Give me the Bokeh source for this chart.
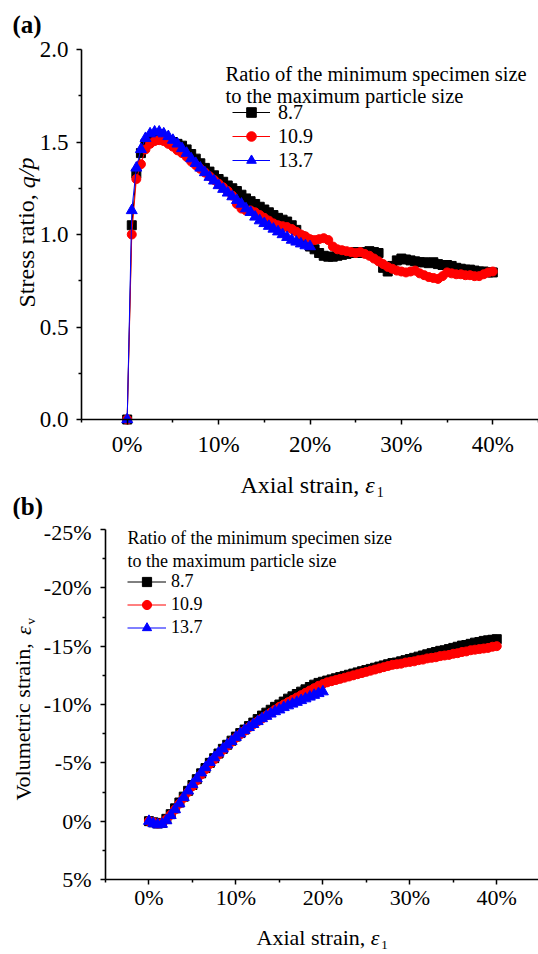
from bokeh.plotting import figure
from bokeh.models import (Range1d, FixedTicker, PrintfTickFormatter, Label,
                          Legend, LegendItem, LinearAxis)
from bokeh.layouts import column
from bokeh.embed import file_html
from bokeh.resources import INLINE

# ---------------- data ----------------
SERIES = ["8.7", "10.9", "13.7"]
COLORS = ["black", "#FF0000", "#0000FF"]
MARKERS = ["square", "circle", "triangle"]
SIZES = [9, 9, 11]

STRAIN_40 = [0, 0.5, 1, 1.5, 2, 2.5, 3, 3.5, 4, 4.5,
             5, 5.5, 6, 6.5, 7, 7.5, 8, 8.5, 9, 9.5,
             10, 10.5, 11, 11.5, 12, 12.5, 13, 13.5, 14, 14.5,
             15, 15.5, 16, 16.5, 17, 17.5, 18, 18.5, 19, 19.5,
             20, 20.5, 21, 21.5, 22, 22.5, 23, 23.5, 24, 24.5,
             25, 25.5, 26, 26.5, 27, 27.5, 28, 28.5, 29, 29.5,
             30, 30.5, 31, 31.5, 32, 32.5, 33, 33.5, 34, 34.5,
             35, 35.5, 36, 36.5, 37, 37.5, 38, 38.5, 39, 39.5,
             40]
STRAIN_20 = [0, 0.5, 1, 1.5, 2, 2.5, 3, 3.5, 4, 4.5,
             5, 5.5, 6, 6.5, 7, 7.5, 8, 8.5, 9, 9.5,
             10, 10.5, 11, 11.5, 12, 12.5, 13, 13.5, 14, 14.5,
             15, 15.5, 16, 16.5, 17, 17.5, 18, 18.5, 19, 19.5,
             20]

# (a) stress ratio q/p
QP_87 = [0, 1.05, 1.33, 1.44, 1.49, 1.51, 1.52, 1.52, 1.515, 1.51,
         1.50, 1.49, 1.48, 1.46, 1.435, 1.41, 1.385, 1.36, 1.34, 1.32,
         1.30, 1.285, 1.265, 1.25, 1.235, 1.215, 1.195, 1.18, 1.165, 1.15,
         1.135, 1.12, 1.105, 1.09, 1.08, 1.07, 1.05, 1.025, 0.99, 0.96,
         0.935, 0.92, 0.90, 0.885, 0.88, 0.88, 0.885, 0.89, 0.895, 0.90,
         0.905, 0.90, 0.905, 0.91, 0.905, 0.90, 0.82, 0.80, 0.83, 0.86,
         0.87, 0.865, 0.86, 0.855, 0.85, 0.85, 0.845, 0.85, 0.84, 0.835,
         0.835, 0.83, 0.82, 0.815, 0.81, 0.81, 0.805, 0.80, 0.80, 0.795,
         0.795]
QP_109 = [0, 1.0, 1.30, 1.38, 1.46, 1.49, 1.505, 1.51, 1.505, 1.49,
          1.475, 1.455, 1.44, 1.42, 1.395, 1.375, 1.355, 1.335, 1.315, 1.295,
          1.275, 1.255, 1.235, 1.21, 1.165, 1.14, 1.13, 1.13, 1.12, 1.105,
          1.09, 1.075, 1.06, 1.05, 1.045, 1.04, 1.03, 1.015, 1.00, 0.99,
          0.975, 0.97, 0.975, 0.98, 0.97, 0.935, 0.92, 0.915, 0.91, 0.905,
          0.90, 0.905, 0.895, 0.885, 0.87, 0.855, 0.84, 0.825, 0.815, 0.805,
          0.80, 0.795, 0.80, 0.805, 0.79, 0.78, 0.77, 0.765, 0.76, 0.775,
          0.795, 0.79, 0.785, 0.785, 0.78, 0.78, 0.775, 0.775, 0.785, 0.795,
          0.80]
QP_137 = [0, 1.13, 1.36, 1.46, 1.52, 1.545, 1.555, 1.555, 1.545, 1.53,
          1.51, 1.49, 1.465, 1.44, 1.41, 1.385, 1.36, 1.335, 1.31, 1.29,
          1.265, 1.245, 1.225, 1.205, 1.185, 1.165, 1.14, 1.12, 1.095, 1.075,
          1.06, 1.045, 1.03, 1.015, 1.0, 0.985, 0.97, 0.96, 0.95, 0.94,
          0.935]

# (b) volumetric strain (%), negative = dilation
EV_87 = [0, 0.1, 0.2, 0.15, -0.2, -0.6, -1.1, -1.6, -2.1, -2.6,
         -3.1, -3.6, -4.1, -4.55, -5.0, -5.4, -5.8, -6.2, -6.55, -6.9,
         -7.25, -7.55, -7.85, -8.15, -8.45, -8.75, -9.05, -9.3, -9.55, -9.8,
         -10.0, -10.25, -10.5, -10.7, -10.9, -11.1, -11.3, -11.5, -11.7, -11.85,
         -11.95, -12.05, -12.15, -12.25, -12.35, -12.45, -12.55, -12.65, -12.75, -12.85,
         -12.95, -13.05, -13.15, -13.25, -13.35, -13.45, -13.55, -13.6, -13.7, -13.8,
         -13.9, -14.0, -14.1, -14.2, -14.3, -14.4, -14.5, -14.6, -14.65, -14.75,
         -14.85, -14.95, -15.05, -15.1, -15.2, -15.3, -15.35, -15.45, -15.5, -15.55,
         -15.6]
EV_109 = [0, 0.1, 0.2, 0.15, -0.15, -0.55, -1.0, -1.5, -2.0, -2.5,
          -3.0, -3.5, -4.0, -4.45, -4.9, -5.3, -5.7, -6.1, -6.45, -6.8,
          -7.15, -7.45, -7.75, -8.05, -8.3, -8.55, -8.8, -9.05, -9.3, -9.55,
          -9.8, -10.0, -10.2, -10.4, -10.6, -10.8, -11.0, -11.2, -11.4, -11.6,
          -11.75, -11.9, -12.0, -12.1, -12.2, -12.3, -12.4, -12.5, -12.6, -12.7,
          -12.8, -12.9, -13.0, -13.1, -13.2, -13.3, -13.4, -13.45, -13.5, -13.6,
          -13.65, -13.7, -13.8, -13.85, -13.95, -14.0, -14.05, -14.15, -14.2, -14.25,
          -14.35, -14.4, -14.5, -14.55, -14.65, -14.7, -14.75, -14.8, -14.85, -14.95,
          -15.0]
EV_137 = [0, 0.2, 0.3, 0.25, -0.05, -0.5, -1.0, -1.5, -2.05, -2.6,
          -3.15, -3.65, -4.15, -4.6, -5.05, -5.45, -5.85, -6.2, -6.55, -6.85,
          -7.2, -7.5, -7.8, -8.05, -8.3, -8.55, -8.8, -9.0, -9.2, -9.4,
          -9.55, -9.75, -9.9, -10.05, -10.2, -10.35, -10.5, -10.65, -10.8, -10.95,
          -11.1]

X_TICKS = [0, 10, 20, 30, 40]
X_MINOR = [-5, 5, 15, 25, 35, 45]
QP_TICKS = [0, 0.5, 1.0, 1.5, 2.0]
QP_MINOR = [0.25, 0.75, 1.25, 1.75]
EV_TICKS = [-25, -20, -15, -10, -5, 0, 5]
EV_MINOR = [-22.5, -17.5, -12.5, -7.5, -2.5, 2.5]

LEGEND_TITLE = ["Ratio of the minimum specimen size",
                "to the maximum particle size"]

FONT = "Liberation Serif"

# ---------------- layout (page pixels) ----------------
W = 538
HA, HB = 519, 435          # canvas heights; panel (b) canvas starts at y = HA
XMIN, XMAX_A, XMAX_B = -5, 45, 44.8
QMIN, QMAX = 0.0, 2.0
EMIN, EMAX = -25, 5
A_L, A_R, A_T, A_B = 81, 538, 49, 419
B_L, B_R, B_T, B_B = 105, 538, 529, 879


def a_x(px):
    return XMIN + (px - A_L) * (XMAX_A - XMIN) / (A_R - A_L)


def a_y(py):
    return QMIN + (QMAX - QMIN) * (A_B - py) / (A_B - A_T)


def b_x(px):
    return XMIN + (px - B_L) * (XMAX_B - XMIN) / (B_R - B_L)


def b_y(py):
    return EMAX - (EMAX - EMIN) * (B_B - py) / (B_B - B_T)


def make_fig(h, xr, yr):
    p = figure(width=W, height=h, x_range=xr, y_range=yr, min_border=0,
               x_axis_location=None, y_axis_location=None,
               output_backend="svg", toolbar_location=None)
    for g in p.grid:
        g.visible = False
    p.outline_line_color = None
    p.background_fill_color = "white"
    p.border_fill_color = "white"
    return p


def style_axis(ax, tick_size, standoff):
    ax.axis_line_width = 1.6
    ax.axis_line_color = "black"
    ax.major_tick_line_color = "black"
    ax.minor_tick_line_color = "black"
    ax.major_tick_line_width = 1.5
    ax.minor_tick_line_width = 1.5
    ax.major_tick_in = 0
    ax.major_tick_out = 5
    ax.minor_tick_in = 0
    ax.minor_tick_out = 3
    ax.major_label_text_font = FONT
    ax.major_label_text_font_size = tick_size
    ax.major_label_text_color = "black"
    ax.major_label_standoff = standoff


def lab(p, x, y, text, size, style_="normal", angle=0):
    p.add_layout(Label(x=x, y=y, text=text, text_font=FONT,
                       text_font_size=size, text_font_style=style_,
                       text_color="black", angle=angle, text_align="left",
                       text_baseline="middle"))


# ---------------- panel (a) ----------------
pa = make_fig(HA, Range1d(a_x(0), a_x(W)), Range1d(a_y(HA), a_y(0)))
xa = LinearAxis(fixed_location=QMIN, bounds=(XMIN, XMAX_A),
                ticker=FixedTicker(ticks=X_TICKS, minor_ticks=X_MINOR),
                formatter=PrintfTickFormatter(format="%d%%"))
ya = LinearAxis(fixed_location=XMIN, bounds=(QMIN, QMAX),
                ticker=FixedTicker(ticks=QP_TICKS, minor_ticks=QP_MINOR),
                formatter=PrintfTickFormatter(format="%.1f"))
style_axis(xa, "23px", 7)
style_axis(ya, "23px", 8)
pa.add_layout(xa, "below")
pa.add_layout(ya, "left")

items_a = []
for name, xs, ys, c, m, s in zip(SERIES, [STRAIN_40, STRAIN_40, STRAIN_20],
                                 [QP_87, QP_109, QP_137], COLORS, MARKERS, SIZES):
    lr = pa.line(xs, ys, line_color=c, line_width=1)
    sr = pa.scatter(xs, ys, marker=m, size=s, fill_color=c, line_color=c)
    items_a.append(LegendItem(label=name, renderers=[lr, sr]))

leg_a = Legend(items=items_a, location=(232, HA - 172), glyph_width=38,
               glyph_height=24, label_height=24, spacing=0, padding=0,
               margin=0, label_standoff=8, label_text_font=FONT,
               label_text_font_size="20px", label_text_color="black",
               border_line_color=None, background_fill_alpha=0)
pa.add_layout(leg_a)

lab(pa, a_x(225), a_y(73), LEGEND_TITLE[0], "20.5px")
lab(pa, a_x(225), a_y(95), LEGEND_TITLE[1], "20.5px")

lab(pa, a_x(12), a_y(24), "(a)", "25px", "bold")
lab(pa, a_x(12), a_y(506), "(b)", "25px", "bold")

# y title (rotated)
ys0 = 307
lab(pa, a_x(26), a_y(ys0), "Stress ratio, ", "24px", angle=1.5708)
lab(pa, a_x(26), a_y(ys0 - 4.972 * 24), "q/p", "24px", "italic", angle=1.5708)
# x title
xs0 = 240
lab(pa, a_x(xs0), a_y(484), "Axial strain, ", "24px")
lab(pa, a_x(xs0 + 5.194 * 24), a_y(484), "ε", "24px", "italic")
lab(pa, a_x(xs0 + 5.194 * 24 + 11.5), a_y(491), "1", "14px")

# ---------------- panel (b) ----------------
pb = make_fig(HB, Range1d(b_x(0), b_x(W)), Range1d(b_y(HA + HB), b_y(HA)))
xb = LinearAxis(fixed_location=EMAX, bounds=(XMIN, 45),
                ticker=FixedTicker(ticks=X_TICKS, minor_ticks=X_MINOR),
                formatter=PrintfTickFormatter(format="%d%%"))
yb = LinearAxis(fixed_location=XMIN, bounds=(EMIN, EMAX),
                ticker=FixedTicker(ticks=EV_TICKS, minor_ticks=EV_MINOR),
                formatter=PrintfTickFormatter(format="%d%%"))
style_axis(xb, "22px", 0)
style_axis(yb, "22px", 9)
pb.add_layout(xb, "below")
pb.add_layout(yb, "left")

items_b = []
for name, xs, ys, c, m, s in zip(SERIES, [STRAIN_40, STRAIN_40, STRAIN_20],
                                 [EV_87, EV_109, EV_137], COLORS, MARKERS, SIZES):
    lr = pb.line(xs, ys, line_color=c, line_width=1)
    sr = pb.scatter(xs, ys, marker=m, size=s, fill_color=c, line_color=c)
    items_b.append(LegendItem(label=name, renderers=[lr, sr]))

leg_b = Legend(items=items_b, location=(127, HA + HB - 639), glyph_width=39,
               glyph_height=23, label_height=23, spacing=0, padding=0,
               margin=0, label_standoff=5, label_text_font=FONT,
               label_text_font_size="18px", label_text_color="black",
               border_line_color=None, background_fill_alpha=0)
pb.add_layout(leg_b)

lab(pb, b_x(127), b_y(537), LEGEND_TITLE[0], "18px")
lab(pb, b_x(127), b_y(560), LEGEND_TITLE[1], "18px")

yb0 = 800
lab(pb, b_x(22.5), b_y(yb0), "Volumetric strain, ", "22px", angle=1.5708)
lab(pb, b_x(22.5), b_y(yb0 - 7.527 * 22), "ε", "22px", "italic", angle=1.5708)
lab(pb, b_x(29.5), b_y(yb0 - 7.527 * 22 - 10.5), "v", "13px", angle=1.5708)

xb0 = 256
lab(pb, b_x(xb0), b_y(937), "Axial strain, ", "22px")
lab(pb, b_x(xb0 + 5.194 * 22), b_y(937), "ε", "22px", "italic")
lab(pb, b_x(xb0 + 5.194 * 22 + 10.5), b_y(944), "1", "13px")

layout = column(pa, pb)
open("out.html", "w").write(file_html(layout, INLINE))
